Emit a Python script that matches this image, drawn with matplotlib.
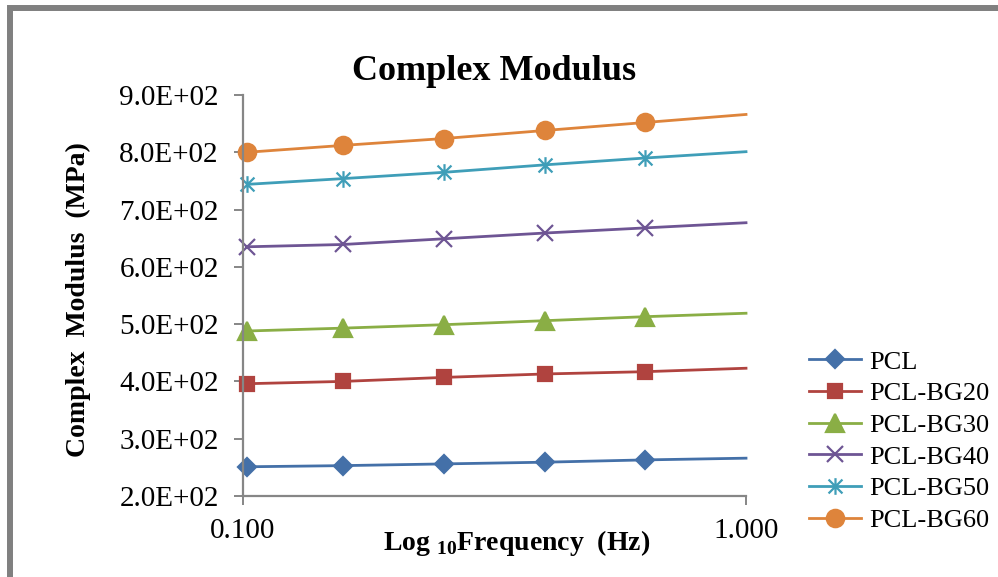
import numpy as np
import matplotlib
matplotlib.use('Agg')
import matplotlib.pyplot as plt
from matplotlib.path import Path
from matplotlib.patches import Rectangle
from matplotlib.ticker import NullLocator

# --- Data ---
freq = [0.102, 0.158, 0.251, 0.398, 0.631, 1.0]
pcl = [251, 253, 256, 259, 263, 266]
pcl_bg20 = [396, 400, 407, 413, 417, 423]
pcl_bg30 = [488, 493, 499, 506, 513, 519]
pcl_bg40 = [635, 639, 649, 659, 668, 677]
pcl_bg50 = [744, 754, 765, 778, 790, 801]
pcl_bg60 = [800, 812, 824, 838, 852, 866]

labels = ['PCL', 'PCL-BG20', 'PCL-BG30', 'PCL-BG40', 'PCL-BG50', 'PCL-BG60']
colors = ['#4470A8', '#B0433F', '#8AAE45', '#6E5594', '#3F9EB8', '#DE843B']
y_ticks = [200, 300, 400, 500, 600, 700, 800, 900]
x_ticks = [0.1, 1.0]
x_ticklabels = ['0.100', '1.000']

# Excel-style star: X with a vertical bar
star = Path([(-0.5, -0.5), (0.5, 0.5), (-0.5, 0.5), (0.5, -0.5), (0, -0.6), (0, 0.6)],
            [Path.MOVETO, Path.LINETO, Path.MOVETO, Path.LINETO, Path.MOVETO, Path.LINETO])
markers = ['D', 's', '^', 'x', star, 'o']
msizes = [9, 10.5, 13, 11, 12, 12.5]

plt.rcParams['font.family'] = ['Liberation Serif', 'DejaVu Serif']
plt.rcParams['mathtext.fontset'] = 'custom'
plt.rcParams['mathtext.rm'] = 'Liberation Serif'
plt.rcParams['mathtext.bf'] = 'Liberation Serif:bold'

fig = plt.figure(figsize=(9.98, 5.77), dpi=100)
ax = fig.add_axes([0.2435, 0.1404, 0.504, 0.695])

series = [pcl, pcl_bg20, pcl_bg30, pcl_bg40, pcl_bg50, pcl_bg60]
for vals, lab, col, mk, ms in zip(series, labels, colors, markers, msizes):
    mfc = 'none' if mk in ('x',) or isinstance(mk, Path) else col
    ax.plot(freq, vals, color=col, lw=2, marker=mk, ms=ms, markevery=slice(0, 5),
            mfc=mfc, mec=col, mew=1.6, label=lab, clip_on=False)

ax.set_xscale('log')
ax.set_xlim(0.1, 1.0)
ax.set_ylim(200, 900)
ax.set_xticks(x_ticks)
ax.set_xticklabels(x_ticklabels)
ax.xaxis.set_minor_locator(NullLocator())
ax.set_yticks(y_ticks)
ax.set_yticklabels(['{:.1E}'.format(v) for v in y_ticks])

for side in ('top', 'right'):
    ax.spines[side].set_visible(False)
for side in ('left', 'bottom'):
    ax.spines[side].set_color('#868686')
    ax.spines[side].set_linewidth(1.6)
ax.tick_params(axis='both', direction='out', length=6.5, width=1.4, color='#868686',
               labelsize=21, labelcolor='black')
ax.tick_params(axis='y', pad=11)
ax.tick_params(axis='x', pad=9)

ax.set_title('Complex Modulus', fontsize=26, fontweight='bold', pad=11)
ax.set_ylabel('Complex  Modulus  (MPa)', fontsize=20, fontweight='bold')
ax.yaxis.set_label_coords(-0.328, 0.491)
ax.yaxis.label.set_va('center')
ax.set_xlabel(r'Log $_{\mathbf{10}}$Frequency  (Hz)', fontsize=20, fontweight='bold')
ax.xaxis.set_label_coords(0.543, -0.135)
ax.xaxis.label.set_va('baseline')

ax.legend(loc='upper left', bbox_to_anchor=(0.811, 0.393), bbox_transform=fig.transFigure,
          frameon=False, fontsize=19, handlelength=1.95, handletextpad=0.33,
          labelspacing=0.31, borderaxespad=0, borderpad=0)

# grey frame around the chart area (cut off at right/bottom)
fig.add_artist(Rectangle((10 / 998, -0.1), 2.0, 1.1 - 8 / 577, transform=fig.transFigure,
                         fill=False, edgecolor='#808080', linewidth=4.3))

fig.savefig('out.png', dpi=100)
